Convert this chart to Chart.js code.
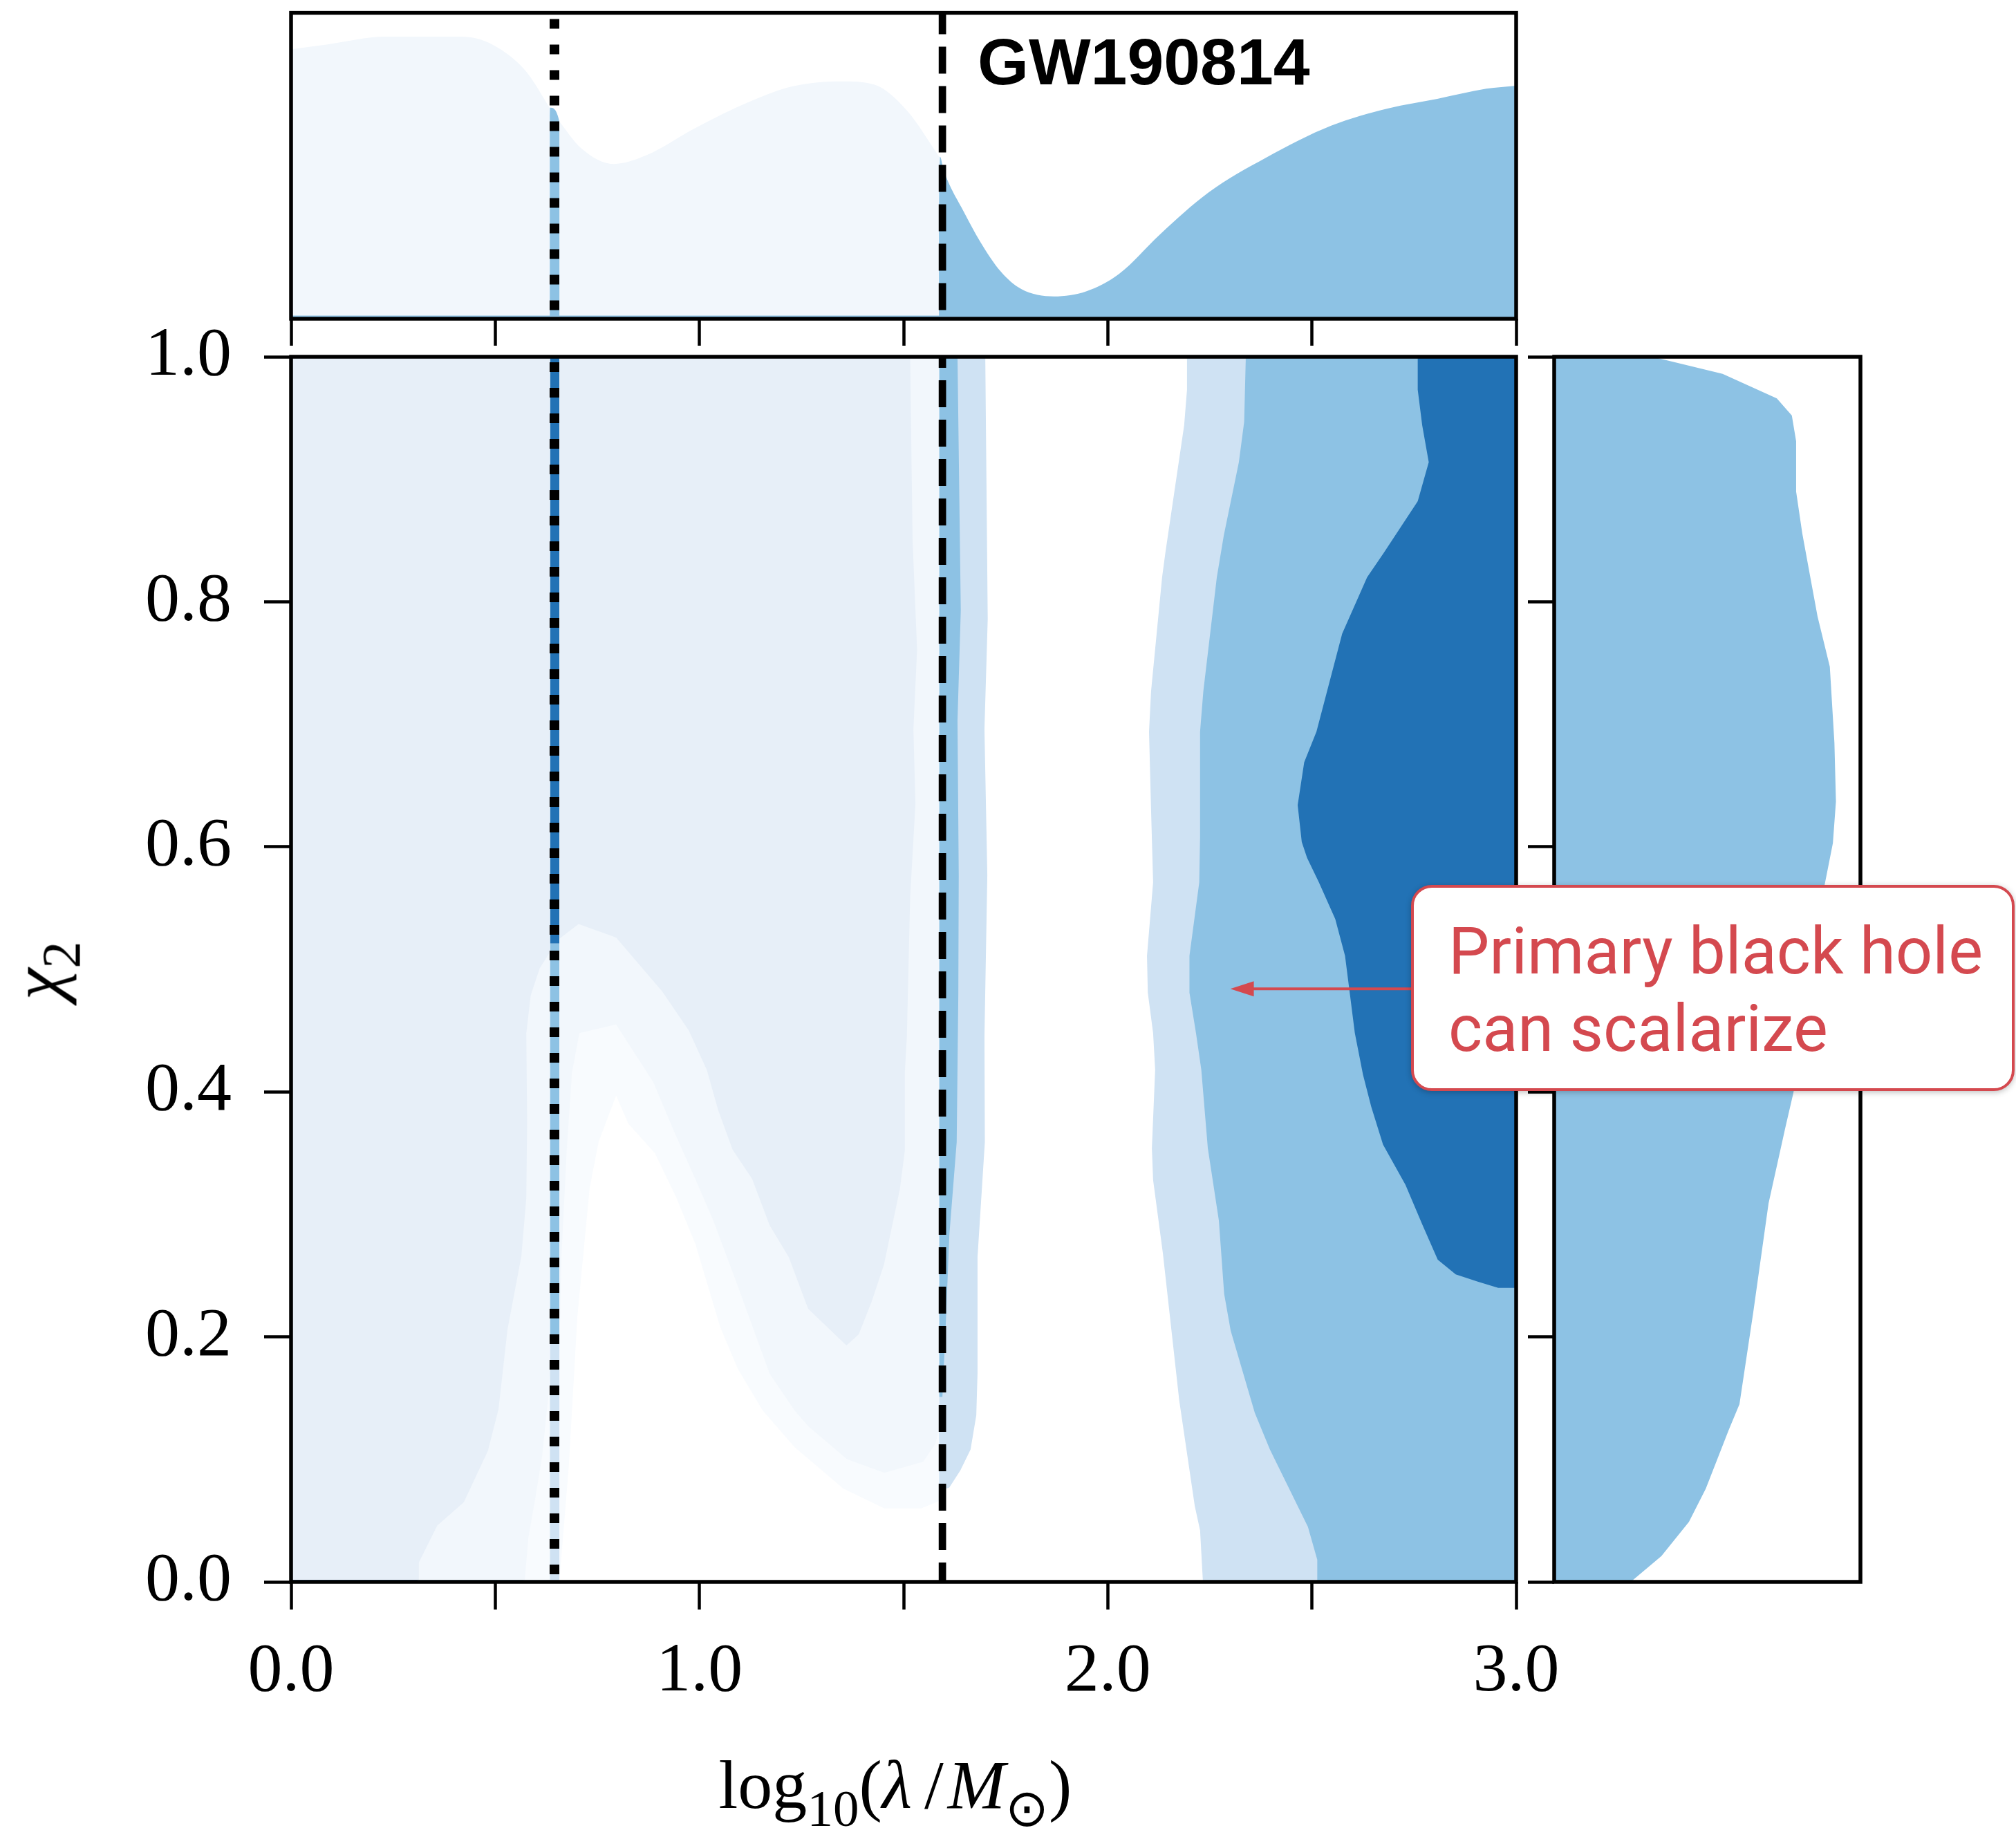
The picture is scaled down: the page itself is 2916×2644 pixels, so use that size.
<!DOCTYPE html>
<html>
<head>
<meta charset="utf-8">
<script src="https://cdn.jsdelivr.net/npm/chart.js@4.4.1/dist/chart.umd.min.js"></script>
<style>
  body { margin: 0; width: 2916px; height: 2644px; background: #fff; position: relative; overflow: hidden; }
  canvas { position: absolute; }
  .lbl { position: absolute; font-family: 'Liberation Serif', serif; color: #000; white-space: nowrap; }
  .sub { font-size: 75%; position: relative; top: 26px; }
  .slash { margin: 0 0.06em 0 0.18em; }
  #xTitle { left: 895px; width: 800px; top: 2532px; text-align: center; font-size: 100px; line-height: 100px; }
  #yTitle { left: 58px; top: 1404px; font-size: 104px; line-height: 104px; transform: translate(-50%, -50%) rotate(-90deg); }
  #gw { position: absolute; left: 1414px; top: 42px; font: bold 95px/95px 'Liberation Sans', Arial, sans-serif; color: #000; }
  #note {
    position: absolute; left: 2041px; top: 1280px; width: 873px; height: 298px; box-sizing: border-box;
    border: 4px solid #d4494f; border-radius: 30px; background: #fff; color: #d4494f;
    font: 94px/112px Roboto, sans-serif; padding: 36px 0 0 50px; box-shadow: 0 2px 8px rgba(0,0,0,0.25);
  }
</style>
</head>
<body>
<canvas id="topChart" width="2210" height="520" style="left:0;top:0"></canvas>
<canvas id="mainChart" width="2290" height="2048" style="left:0;top:440px"></canvas>
<canvas id="sideChart" width="500" height="1800" style="left:2200px;top:500px"></canvas>
<div id="gw">GW190814</div>
<div id="xTitle" class="lbl">log<span class="sub">10</span>(<i>λ</i><span class="slash">/</span><i>M</i><span class="sub">⊙</span>)</div>
<div id="yTitle" class="lbl"><i>χ</i><span class="sub">2</span></div>
<div id="note">Primary black hole<br>can scalarize</div>
<script>
'use strict';

// axes: x = log10(lambda/Msun), y = chi_2
const xTickValues = [0, 0.5, 1, 1.5, 2, 2.5, 3];
const xTickLabels = ['0.0', '', '1.0', '', '2.0', '', '3.0'];
const yTickValues = [0, 0.2, 0.4, 0.6, 0.8, 1.0];
const yTickLabels = ['0.0', '0.2', '0.4', '0.6', '0.8', '1.0'];

// vertical reference lines
const dottedLambda = 0.645;
const dashedLambda = 1.595;

// right-hand posterior contours, left edges [x, chi] from top to bottom
const lightEdge = [[2.194,1.0],[2.194,0.973],[2.187,0.944],[2.141,0.840],[2.133,0.820],[2.106,0.727],[2.101,0.694],
  [2.106,0.63],[2.111,0.571],[2.096,0.511],[2.098,0.481],[2.111,0.448],[2.116,0.418],[2.108,0.354],[2.111,0.328],
  [2.135,0.268],[2.175,0.148],[2.194,0.105],[2.213,0.062],[2.226,0.042],[2.233,0.0]];
const mediumEdge = [[2.338,1.0],[2.334,0.947],[2.321,0.914],[2.284,0.854],[2.267,0.820],[2.234,0.727],[2.226,0.694],
  [2.226,0.608],[2.224,0.571],[2.200,0.511],[2.200,0.481],[2.216,0.448],[2.229,0.418],[2.245,0.354],[2.272,0.295],
  [2.285,0.235],[2.301,0.205],[2.360,0.138],[2.397,0.108],[2.490,0.045],[2.513,0.018],[2.513,0.0]];
const darkEdge = [[2.759,1.0],[2.759,0.973],[2.770,0.944],[2.786,0.914],[2.759,0.882],[2.676,0.840],[2.635,0.820],
  [2.574,0.774],[2.511,0.694],[2.481,0.669],[2.465,0.634],[2.475,0.604],[2.488,0.591],[2.517,0.571],[2.557,0.541],
  [2.581,0.511],[2.605,0.448],[2.625,0.414],[2.645,0.388],[2.674,0.357],[2.729,0.324],[2.771,0.291],[2.808,0.263],
  [2.852,0.251],[2.906,0.245],[2.956,0.240],[3.0,0.240]];

// thin bands just right of the dashed line, right edges [x, chi]
const stripLight = [[1.700,1.0],[1.706,0.786],[1.698,0.696],[1.705,0.577],[1.698,0.445],[1.699,0.359],[1.681,0.265],
  [1.681,0.170],[1.678,0.136],[1.664,0.108],[1.639,0.091],[1.612,0.077],[1.595,0.075]];
const stripMedium = [[1.632,1.0],[1.640,0.793],[1.632,0.703],[1.635,0.577],[1.634,0.48],[1.630,0.359],[1.612,0.283],
  [1.603,0.208],[1.595,0.151]];

// colour changes seen behind the dotted line (chi from top)
const sliverBreaks = [1.0, 0.521, 0.2, 0.0];
// tiny strip along chi = 0 in the left column
const baseStripBreaks = [0, 0.31, 0.57, 0.634];

// left (excluded) overlay, column 1: x < dotted line
const leftBand1 = [[0,0],[0.572,0.0],[0.581,0.036],[0.598,0.068],[0.615,0.103],[0.632,0.158],[0.634,0.18],[0.634,1.0],[0,1.0]];
const leftInner = [[0,0],[0.313,0.0],[0.313,0.016],[0.358,0.046],[0.423,0.065],[0.482,0.107],[0.508,0.141],[0.530,0.206],
  [0.564,0.266],[0.576,0.313],[0.578,0.376],[0.576,0.448],[0.587,0.479],[0.609,0.501],[0.632,0.513],[0.634,0.515],[0.634,1.0],[0,1.0]];
// column 2: between dotted and dashed lines
const midWhite = [[0.657,0.0],[0.658,0.0],[0.680,0.094],[0.701,0.216],[0.731,0.321],[0.753,0.359],[0.796,0.397],[0.826,0.374],
  [0.891,0.350],[0.943,0.314],[0.990,0.276],[1.051,0.208],[1.094,0.174],[1.155,0.140],[1.233,0.110],[1.353,0.076],
  [1.453,0.060],[1.543,0.060],[1.587,0.066],[1.587,0.0]];
const midBand1 = [[0.657,0.185],[0.662,0.265],[0.675,0.352],[0.688,0.416],[0.706,0.448],[0.796,0.455],[0.887,0.408],
  [0.939,0.367],[0.995,0.325],[1.034,0.295],[1.090,0.245],[1.172,0.170],[1.233,0.140],[1.267,0.127],[1.362,0.100],
  [1.453,0.089],[1.548,0.098],[1.578,0.113],[1.587,0.125],[1.587,1.0],[0.657,1.0]];
const midInner = [[0.657,0.525],[0.704,0.537],[0.796,0.526],[0.909,0.482],[0.974,0.450],[1.018,0.418],[1.046,0.385],
  [1.081,0.353],[1.129,0.329],[1.172,0.291],[1.219,0.265],[1.266,0.223],[1.360,0.193],[1.390,0.202],[1.422,0.229],
  [1.452,0.259],[1.491,0.321],[1.503,0.352],[1.503,0.416],[1.508,0.445],[1.516,0.559],[1.529,0.635],[1.524,0.696],
  [1.533,0.761],[1.522,0.85],[1.516,1.0],[0.657,1.0]];

// top marginal (density vs x, panel height = 1)
const topLightLeft = [[0,0.881],[0.090,0.897],[0.230,0.922],[0.410,0.922],[0.470,0.910],[0.530,0.865],[0.580,0.801],[0.634,0.688]];
const topLightRight = [[0.657,0.645],[0.710,0.558],[0.790,0.506],[0.869,0.534],[0.989,0.623],[1.129,0.713],[1.229,0.760],
  [1.349,0.776],[1.429,0.765],[1.509,0.679],[1.587,0.53]];
const topMedium = [[0,0.012],[0.628,0.012],[0.634,0.69],[0.657,0.645],[0.663,0.012],[1.583,0.012],[1.589,0.53],[1.598,0.486],
  [1.648,0.348],[1.688,0.251],[1.738,0.154],[1.788,0.097],[1.868,0.073],[1.948,0.090],[2.028,0.147],[2.128,0.276],
  [2.247,0.413],[2.387,0.526],[2.547,0.631],[2.687,0.688],[2.807,0.719],[2.927,0.752],[3.0,0.762]];

// right marginal (density vs chi, panel width = 1)
const sideCurve = [[0.25,0.0],[0.35,0.021],[0.44,0.049],[0.495,0.076],[0.57,0.124],[0.605,0.145],[0.65,0.22],[0.70,0.309],
  [0.755,0.371],[0.78,0.398],[0.82,0.45],[0.85,0.50],[0.88,0.565],[0.91,0.603],[0.92,0.637],[0.915,0.685],[0.90,0.747],
  [0.86,0.788],[0.84,0.815],[0.81,0.856],[0.79,0.890],[0.79,0.931],[0.776,0.952],[0.727,0.966],[0.55,0.986],[0.32,1.0]];

// annotation arrow (data coords)
const noteArrow = { from: [2.76, 0.484], to: [2.30, 0.484] };

const colors = {
  dark: '#2272b5',
  medium: '#8dc2e4',
  light: '#cfe2f3',
  pale: '#e7eff8',
  band1: '#f2f7fc',
  band2: '#f8fbfe',
  note: '#d4494f'
};

Chart.defaults.font.family = "'Liberation Serif', serif";

function pts(arr) { return arr.map(([x, y]) => ({x, y})); }

function poly(arr, color) {
  return { data: pts(arr), showLine: true, fill: 'shape', backgroundColor: color, borderWidth: 0, pointRadius: 0, tension: 0 };
}

function curve(arr, color, base) {
  return { data: pts(arr), showLine: true, fill: {value: base}, backgroundColor: color, borderWidth: 0,
    pointRadius: 0, cubicInterpolationMode: 'monotone' };
}

function rect(x0, x1, y0, y1) { return [[x0, y0], [x1, y0], [x1, y1], [x0, y1]]; }

function vline(x, dash, width, offset) {
  return { data: [{x, y: 1}, {x, y: 0}], showLine: true, fill: false, borderColor: '#000', borderWidth: width,
    borderDash: dash, borderDashOffset: offset, borderCapStyle: 'butt', pointRadius: 0 };
}

function stack(layers) {
  // first layer is painted first
  return layers.map((d, i) => Object.assign(d, {order: layers.length - i}));
}

function noPadding(s) {
  s.paddingLeft = s.paddingRight = s.paddingTop = s.paddingBottom = 0;
}

const spinePlugin = {
  id: 'spines',
  afterDatasetsDraw(chart) {
    const {ctx, chartArea: a} = chart;
    ctx.save();
    ctx.strokeStyle = '#000';
    ctx.lineWidth = 5.5;
    ctx.strokeRect(a.left, a.top, a.right - a.left, a.bottom - a.top);
    ctx.restore();
  }
};

const arrowPlugin = {
  id: 'noteArrow',
  afterDatasetsDraw(chart) {
    const {ctx, scales: {x, y}} = chart;
    const x0 = x.getPixelForValue(noteArrow.from[0]), y0 = y.getPixelForValue(noteArrow.from[1]);
    const x1 = x.getPixelForValue(noteArrow.to[0]), y1 = y.getPixelForValue(noteArrow.to[1]);
    ctx.save();
    ctx.strokeStyle = colors.note;
    ctx.fillStyle = colors.note;
    ctx.lineWidth = 4;
    ctx.beginPath();
    ctx.moveTo(x0, y0);
    ctx.lineTo(x1 + 20, y1);
    ctx.stroke();
    ctx.beginPath();
    ctx.moveTo(x1, y1);
    ctx.lineTo(x1 + 34, y1 - 11);
    ctx.lineTo(x1 + 34, y1 + 11);
    ctx.closePath();
    ctx.fill();
    ctx.restore();
  }
};

const tickGrid = len => ({ display: true, drawOnChartArea: false, drawTicks: true, tickLength: len, tickWidth: 4.5,
  color: '#000', tickColor: '#000' });

function xScale(showLabels, height, tickLen, pad) {
  return {
    type: 'linear', position: 'bottom', min: 0, max: 3,
    border: {display: false},
    grid: tickGrid(tickLen),
    afterBuildTicks: s => { s.ticks = xTickValues.map(v => ({value: v})); },
    afterFit: s => { s.height = height; noPadding(s); },
    ticks: { autoSkip: false, maxRotation: 0, minRotation: 0, padding: pad, color: '#000',
      font: {size: 100}, callback: (v, i) => showLabels ? xTickLabels[i] : '' }
  };
}

function yScale(showLabels, width, tickLen, pad) {
  return {
    type: 'linear', position: 'left', min: 0, max: 1,
    border: {display: false},
    grid: tickGrid(tickLen),
    afterBuildTicks: s => { s.ticks = yTickValues.map(v => ({value: v})); },
    afterFit: s => { s.width = width; noPadding(s); },
    ticks: { autoSkip: false, padding: pad, color: '#000',
      font: {size: 100}, callback: (v, i) => showLabels ? yTickLabels[i] : '' }
  };
}

const baseOptions = {
  responsive: false,
  devicePixelRatio: 1,
  animation: false,
  events: [],
  plugins: { legend: {display: false}, tooltip: {enabled: false} }
};

// ---- main joint panel ----
const sliver = sliverBreaks.slice(0, -1).map((top, i) =>
  poly(rect(0.628, 0.664, sliverBreaks[i + 1], top), [colors.dark, colors.medium, colors.light][i]));
const baseStrip = baseStripBreaks.slice(0, -1).map((x0, i) =>
  poly(rect(x0, baseStripBreaks[i + 1], 0, 0.0016), [colors.dark, colors.medium, colors.light][i]));

const mainLayers = stack([
  poly([...lightEdge, [3, 0], [3, 1]], colors.light),
  poly([...mediumEdge, [3, 0], [3, 1]], colors.medium),
  poly([...darkEdge, [3, 1]], colors.dark),
  poly([[1.585, 1.0], ...stripLight, [1.585, 0.075]], colors.light),
  poly([[1.585, 1.0], ...stripMedium, [1.585, 0.151]], colors.medium),
  ...sliver,
  poly(rect(0, 0.634, 0, 1), colors.band2),
  poly(leftBand1, colors.band1),
  poly(leftInner, colors.pale),
  poly(rect(0.657, 1.587, 0, 1), colors.band2),
  poly(midWhite, '#ffffff'),
  poly(midBand1, colors.band1),
  poly(midInner, colors.pale),
  ...baseStrip,
  vline(dottedLambda, [14, 23], 14, 29),
  vline(dashedLambda, [39, 18], 10.7, 23)
]);

new Chart(document.getElementById('mainChart'), {
  type: 'scatter',
  data: { datasets: mainLayers },
  options: Object.assign({}, baseOptions, {
    layout: { padding: {left: 0, top: 76, right: 97, bottom: 0} },
    scales: { x: xScale(true, 200, 40, 31), y: yScale(true, 421, 39, 47) }
  }),
  plugins: [spinePlugin, arrowPlugin]
});

// ---- top marginal ----
const topLayers = stack([
  curve(topMedium, colors.medium, 0),
  curve(topLightLeft, colors.band1, 0.01),
  curve(topLightRight, colors.band1, 0.01),
  vline(dottedLambda, [14, 23], 14, 28),
  vline(dashedLambda, [39, 18], 10.7, 8)
]);

new Chart(document.getElementById('topChart'), {
  type: 'scatter',
  data: { datasets: topLayers },
  options: Object.assign({}, baseOptions, {
    layout: { padding: {left: 421, top: 18.6, right: 17, bottom: 0} },
    scales: { x: xScale(false, 59, 39, 0), y: {display: false, min: 0, max: 1} }
  }),
  plugins: [spinePlugin]
});

// ---- right marginal ----
new Chart(document.getElementById('sideChart'), {
  type: 'scatter',
  data: { datasets: [poly([[0, 0], ...sideCurve, [0, 1]], colors.medium)] },
  options: Object.assign({}, baseOptions, {
    layout: { padding: {left: 0, top: 16, right: 9, bottom: 12} },
    scales: { x: {display: false, min: 0, max: 1}, y: yScale(false, 48, 38, 0) }
  }),
  plugins: [spinePlugin]
});
</script>
</body>
</html>
